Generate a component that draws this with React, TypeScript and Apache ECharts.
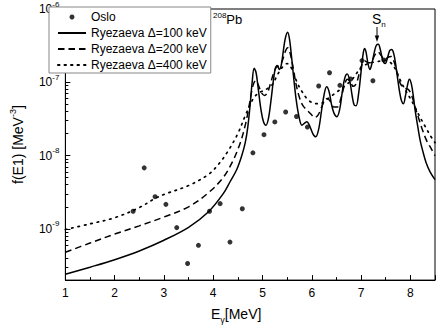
import React, { useEffect, useRef } from "react";
import * as echarts from "echarts";

// Oslo data points (E_gamma in MeV, f(E1) in MeV^-3)
const osloE = [2.375, 2.6, 2.82, 3.04, 3.26, 3.48, 3.7, 3.925, 4.14, 4.34, 4.59, 4.805, 5.03, 5.25, 5.47, 5.69, 5.91, 6.14, 6.36, 6.57, 6.79, 7.02, 7.24, 7.46];
const osloF = [1.74e-9, 6.8e-9, 2.75e-9, 2.16e-9, 1.04e-9, 3.37e-10, 5.96e-10, 1.74e-9, 2.21e-9, 6.6e-10, 1.88e-9, 1.09e-8, 1.93e-8, 2.88e-8, 3.93e-8, 3.41e-8, 2.45e-8, 8.9e-8, 1.35e-7, 9.1e-8, 1.11e-7, 1.98e-7, 1.05e-7, 2.02e-7];

// Ryezaeva, Delta = 100 keV
const ryez100: [number, number][] = [
  [1.0, 2.4e-10], [1.5, 3.0e-10], [2.0, 3.8e-10], [2.5, 5.0e-10], [3.0, 7.0e-10], [3.5, 1.05e-9],
  [3.9, 1.7e-9], [4.2, 3.0e-9], [4.35, 4.5e-9], [4.48, 6.5e-9], [4.58, 1.0e-8], [4.65, 1.5e-8],
  [4.7, 2.4e-8], [4.75, 5.0e-8], [4.79, 1.0e-7], [4.83, 1.55e-7], [4.87, 1.35e-7], [4.92, 7.5e-8],
  [4.97, 4.2e-8], [5.02, 2.9e-8], [5.07, 2.6e-8], [5.12, 3.2e-8], [5.17, 5.5e-8], [5.22, 1.05e-7],
  [5.26, 1.55e-7], [5.3, 1.7e-7], [5.34, 1.5e-7], [5.38, 1.7e-7], [5.42, 2.6e-7], [5.46, 3.9e-7],
  [5.51, 4.8e-7], [5.55, 3.8e-7], [5.59, 2.2e-7], [5.63, 1.2e-7], [5.68, 6.0e-8], [5.74, 3.4e-8],
  [5.8, 2.6e-8], [5.86, 2.8e-8], [5.9, 2.9e-8], [5.95, 2.6e-8], [6.02, 2.0e-8], [6.08, 1.8e-8],
  [6.14, 2.3e-8], [6.2, 4.2e-8], [6.25, 6.8e-8], [6.3, 8.7e-8], [6.35, 7.5e-8], [6.4, 5.0e-8],
  [6.45, 3.8e-8], [6.51, 3.4e-8], [6.57, 4.4e-8], [6.62, 7.5e-8], [6.67, 1.15e-7], [6.72, 1.3e-7],
  [6.77, 1.05e-7], [6.82, 6.5e-8], [6.86, 4.9e-8], [6.9, 4.8e-8], [6.95, 7.0e-8], [7.0, 1.4e-7],
  [7.04, 2.4e-7], [7.07, 2.9e-7], [7.1, 2.6e-7], [7.14, 1.8e-7], [7.18, 1.5e-7], [7.22, 1.8e-7],
  [7.27, 2.6e-7], [7.31, 3.2e-7], [7.35, 3.3e-7], [7.39, 2.8e-7], [7.44, 2.0e-7], [7.49, 1.8e-7],
  [7.54, 2.2e-7], [7.58, 2.7e-7], [7.62, 2.8e-7], [7.66, 2.5e-7], [7.7, 1.8e-7], [7.74, 1.15e-7],
  [7.78, 7.5e-8], [7.82, 5.6e-8], [7.86, 5.1e-8], [7.9, 6.5e-8], [7.94, 9.0e-8], [7.98, 1.1e-7],
  [8.02, 9.5e-8], [8.06, 6.5e-8], [8.1, 4.0e-8], [8.15, 2.5e-8], [8.2, 1.6e-8], [8.26, 1.1e-8],
  [8.32, 8.0e-9], [8.4, 6.0e-9], [8.5, 4.7e-9],
];

// Ryezaeva, Delta = 200 keV
const ryez200: [number, number][] = [
  [1.0, 4.8e-10], [1.5, 6.4e-10], [2.0, 8.5e-10], [2.5, 1.1e-9], [3.0, 1.45e-9], [3.5, 2.0e-9],
  [3.9, 3.1e-9], [4.2, 5.0e-9], [4.4, 8.5e-9], [4.55, 1.5e-8], [4.65, 2.6e-8], [4.72, 4.4e-8],
  [4.78, 7.5e-8], [4.83, 1.0e-7], [4.87, 1.05e-7], [4.92, 9.0e-8], [4.98, 7.2e-8], [5.04, 6.6e-8],
  [5.1, 7.2e-8], [5.16, 9.5e-8], [5.22, 1.3e-7], [5.28, 1.6e-7], [5.34, 1.7e-7], [5.4, 1.95e-7],
  [5.46, 2.6e-7], [5.51, 2.95e-7], [5.56, 2.5e-7], [5.62, 1.6e-7], [5.68, 9.5e-8], [5.75, 6.2e-8],
  [5.82, 4.8e-8], [5.9, 4.2e-8], [5.98, 3.7e-8], [6.06, 3.3e-8], [6.13, 3.6e-8], [6.2, 4.6e-8],
  [6.27, 5.8e-8], [6.32, 6.0e-8], [6.38, 5.4e-8], [6.45, 4.6e-8], [6.52, 4.6e-8], [6.59, 6.0e-8],
  [6.66, 9.0e-8], [6.72, 1.1e-7], [6.78, 1.02e-7], [6.84, 8.8e-8], [6.9, 9.5e-8], [6.96, 1.3e-7],
  [7.02, 1.75e-7], [7.08, 1.95e-7], [7.14, 1.85e-7], [7.2, 1.85e-7], [7.27, 2.3e-7], [7.34, 2.6e-7],
  [7.41, 2.3e-7], [7.48, 2.05e-7], [7.55, 2.2e-7], [7.61, 2.25e-7], [7.67, 1.9e-7], [7.73, 1.35e-7],
  [7.8, 9.5e-8], [7.88, 8.3e-8], [7.96, 8.0e-8], [8.03, 6.5e-8], [8.1, 4.5e-8], [8.17, 3.2e-8],
  [8.25, 2.2e-8], [8.33, 1.6e-8], [8.42, 1.25e-8], [8.5, 1.0e-8],
];

// Ryezaeva, Delta = 400 keV
const ryez400: [number, number][] = [
  [1.0, 9.8e-10], [1.5, 1.17e-9], [2.0, 1.42e-9], [2.5, 1.95e-9], [2.82, 2.6e-9], [3.0, 2.95e-9],
  [3.5, 3.9e-9], [3.9, 5.5e-9], [4.1, 7.5e-9], [4.3, 1.15e-8], [4.5, 2.0e-8], [4.65, 3.5e-8],
  [4.8, 5.8e-8], [4.9, 7.0e-8], [5.0, 7.6e-8], [5.1, 8.2e-8], [5.2, 9.3e-8], [5.3, 1.25e-7],
  [5.4, 1.6e-7], [5.5, 1.8e-7], [5.6, 1.5e-7], [5.7, 1.0e-7], [5.8, 7.5e-8], [5.9, 6.0e-8],
  [6.0, 5.3e-8], [6.1, 5.1e-8], [6.2, 5.2e-8], [6.3, 5.8e-8], [6.4, 6.5e-8], [6.5, 7.3e-8],
  [6.6, 8.2e-8], [6.7, 9.3e-8], [6.8, 1.05e-7], [6.9, 1.3e-7], [7.0, 1.6e-7], [7.1, 1.75e-7],
  [7.2, 1.85e-7], [7.3, 1.9e-7], [7.4, 1.95e-7], [7.5, 2.0e-7], [7.6, 1.85e-7], [7.7, 1.5e-7],
  [7.8, 1.05e-7], [7.9, 7.8e-8], [8.0, 6.0e-8], [8.1, 4.5e-8], [8.2, 3.3e-8], [8.3, 2.5e-8],
  [8.4, 1.9e-8], [8.5, 1.5e-8],
];

// minor tick positions of the logarithmic f(E1) axis
const yMinorTicks = [
  3e-10, 4e-10, 5e-10, 6e-10, 7e-10, 8e-10, 9e-10,
  2e-9, 3e-9, 4e-9, 5e-9, 6e-9, 7e-9, 8e-9, 9e-9,
  2e-8, 3e-8, 4e-8, 5e-8, 6e-8, 7e-8, 8e-8, 9e-8,
  2e-7, 3e-7, 4e-7, 5e-7, 6e-7, 7e-7, 8e-7, 9e-7,
];

const seriesNames = ["Oslo", "Ryezaeva \u0394=100 keV", "Ryezaeva \u0394=200 keV", "Ryezaeva \u0394=400 keV"];
const xMin = 1;
const xMax = 8.5;
const yMin = 2e-10;
const yMax = 1e-6;

const FONT = "Liberation Sans, Arial, sans-serif";

export default function App() {
  const ref = useRef<HTMLDivElement>(null);
  useEffect(() => {
    if (!ref.current) return;
    const chart = echarts.init(ref.current, undefined, { renderer: "svg" });
    const oslo = osloE.map((e, i) => [e, osloF[i]]);
    chart.setOption({
      animation: false,
      textStyle: { fontFamily: FONT, color: "#000" },
      grid: { left: 46, right: 1, top: 6, bottom: 39, show: true, borderColor: "#000", borderWidth: 1 },
      legend: {
        orient: "vertical",
        left: 49,
        top: 7,
        padding: [3, 4, 1, 8],
        itemGap: 2,
        itemWidth: 28,
        itemHeight: 5,
        borderColor: "#888",
        borderWidth: 1,
        borderRadius: 0,
        backgroundColor: "#fff",
        textStyle: { fontSize: 12, fontFamily: FONT, color: "#000", lineHeight: 14 },
        data: [
          { name: seriesNames[0] },
          { name: seriesNames[1], itemStyle: { opacity: 0 } },
          { name: seriesNames[2], itemStyle: { opacity: 0 } },
          { name: seriesNames[3], itemStyle: { opacity: 0 } },
        ],
      },
      xAxis: {
        type: "value",
        min: xMin,
        max: xMax,
        interval: 1,
        name: "E{s|\u03b3}[MeV]",
        nameLocation: "middle",
        nameGap: 21,
        nameTextStyle: {
          fontFamily: FONT,
          color: "#000",
          padding: [0, 28, 0, 0],
          rich: {
            s: { fontSize: 9, fontFamily: FONT, verticalAlign: "bottom", lineHeight: 10, color: "#000" },
          },
          fontSize: 14,
          lineHeight: 20,
        },
        axisLine: { lineStyle: { color: "#000", width: 1 } },
        axisTick: { inside: true, length: 5, lineStyle: { color: "#000" } },
        minorTick: { show: true, splitNumber: 2, length: 3, lineStyle: { color: "#000" } },
        splitLine: { show: false },
        axisLabel: { fontSize: 12, color: "#000", margin: 7, fontFamily: FONT, showMaxLabel: false },
      },
      yAxis: [
        {
          type: "log",
          logBase: 10,
          min: yMin,
          max: yMax,
          name: "f(E1) [MeV{s|-3}]",
          nameLocation: "middle",
          nameGap: 31,
          nameRotate: 90,
          nameTextStyle: {
            fontFamily: FONT,
            color: "#000",
            fontSize: 14,
            lineHeight: 20,
            rich: {
              s: { fontSize: 9, fontFamily: FONT, verticalAlign: "top", lineHeight: 10, color: "#000" },
            },
          },
          axisLine: { show: true, lineStyle: { color: "#000", width: 1 } },
          axisTick: { inside: true, length: 5, lineStyle: { color: "#000" } },
          splitLine: { show: false },
          axisLabel: {
            margin: 6,
            color: "#000",
            formatter: (v: number) => {
              const e = Math.round(Math.log10(v));
              if (Math.abs(v / Math.pow(10, e) - 1) > 0.01) return "";
              return "{b|10}{s|" + e + "}";
            },
            rich: {
              b: { fontSize: 12, fontFamily: FONT, lineHeight: 18, color: "#000" },
              s: { fontSize: 8, fontFamily: FONT, lineHeight: 10, verticalAlign: "top", color: "#000" },
            },
          },
        },
        {
          type: "value",
          position: "left",
          min: Math.log10(yMin),
          max: Math.log10(yMax),
          axisLine: { show: false },
          axisLabel: { show: false },
          splitLine: { show: false },
          axisTick: {
            show: true,
            inside: true,
            length: 3,
            lineStyle: { color: "#000" },
            customValues: yMinorTicks.map((v) => Math.log10(v)),
          },
        },
      ],
      series: [
        {
          name: seriesNames[0],
          type: "scatter",
          data: oslo,
          symbol: "circle",
          symbolSize: 5,
          itemStyle: { color: "#000" },
          z: 5,
        },
        {
          name: seriesNames[1],
          type: "line",
          data: ryez100,
          smooth: 0.35,
          symbol: "none",
          lineStyle: { color: "#000", width: 1.5, type: "solid" },
          itemStyle: { color: "#000" },
        },
        {
          name: seriesNames[2],
          type: "line",
          data: ryez200,
          smooth: 0.35,
          symbol: "none",
          lineStyle: { color: "#000", width: 1.5, type: [6.5, 4] },
          itemStyle: { color: "#000" },
        },
        {
          name: seriesNames[3],
          type: "line",
          data: ryez400,
          smooth: 0.35,
          symbol: "none",
          lineStyle: { color: "#000", width: 1.7, type: [1.5, 5], cap: "round" },
          itemStyle: { color: "#000" },
        },
      ],
      graphic: [
        {
          type: "text",
          x: 213,
          y: 11,
          style: {
            text: "{s|208}{b|Pb}",
            fill: "#000",
            rich: {
              s: { fontSize: 8, fontFamily: FONT, verticalAlign: "top", lineHeight: 10, fill: "#000" },
              b: { fontSize: 13, fontFamily: FONT, lineHeight: 16, fill: "#000" },
            },
          },
        },
        {
          type: "text",
          x: 372,
          y: 10,
          style: {
            text: "{b|S}{s|n}",
            fill: "#000",
            rich: {
              b: { fontSize: 14, fontFamily: FONT, lineHeight: 18, fill: "#000" },
              s: { fontSize: 8, fontFamily: FONT, verticalAlign: "bottom", lineHeight: 10, fill: "#000" },
            },
          },
        },
        {
          type: "line",
          shape: { x1: 377, y1: 27, x2: 377, y2: 38 },
          style: { stroke: "#000", lineWidth: 1 },
        },
        {
          type: "polygon",
          shape: { points: [[374.8, 35.5], [379.2, 35.5], [377, 42]] },
          style: { fill: "#000" },
        },
      ],
    });
    return () => chart.dispose();
  }, []);
  return <div ref={ref} style={{ position: "absolute", left: 0, top: 0, width: 436, height: 329 }} />;
}
